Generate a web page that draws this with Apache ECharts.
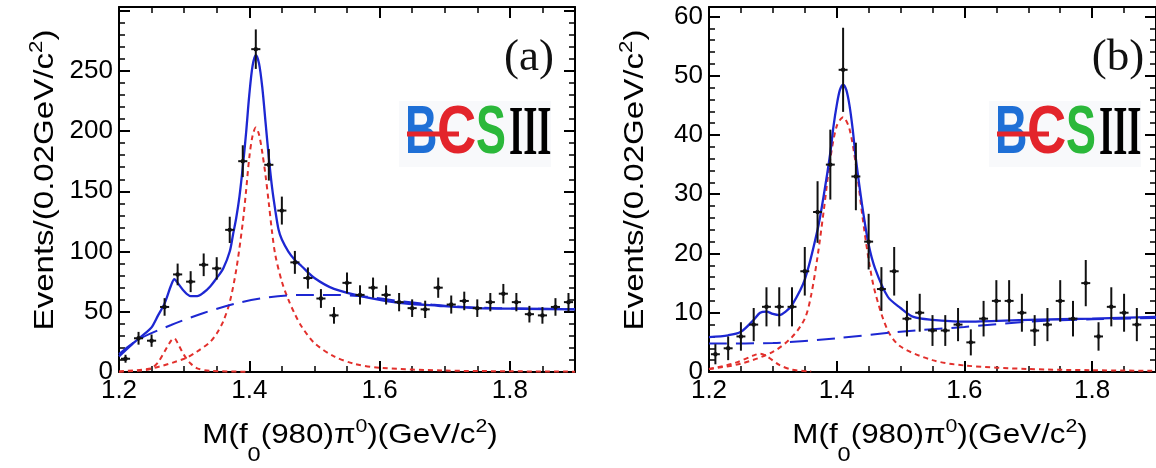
<!DOCTYPE html>
<html lang="en">
<head>
    <meta charset="UTF-8">
    <title>f0(980)pi0 mass spectra</title>
    <script src="https://cdn.jsdelivr.net/npm/echarts@6/dist/echarts.min.js"></script>
    <style>
        html, body { margin: 0; padding: 0; background: #fff; }
        #main { width: 1156px; height: 468px; }
    </style>
</head>
<body>
<div id="main"></div>
<script type="text/javascript">
    // ---- data ----
    // (a) bin centres and contents
    var aBinX = [1.21, 1.23, 1.25, 1.27, 1.29, 1.31, 1.33, 1.35, 1.37, 1.39, 1.41, 1.43, 1.45, 1.47, 1.49, 1.51, 1.53, 1.55,
        1.57, 1.59, 1.61, 1.63, 1.65, 1.67, 1.69, 1.71, 1.73, 1.75, 1.77, 1.79, 1.81, 1.83, 1.85, 1.87, 1.89];
    var aCount = [11, 28, 26, 54, 81, 75, 89, 86, 118, 175, 268, 172, 134, 91, 78, 61, 47, 74,
        64, 70, 64, 58, 53, 52, 70, 56, 59, 53, 58, 65, 58, 48, 47, 54, 58];
    var aErr = [3.3, 5.3, 5.1, 7.3, 9, 8.7, 9.4, 9.3, 10.9, 13.2, 16.4, 13.1, 11.6, 9.5, 8.8, 7.8, 6.9, 8.6,
        8, 8.4, 8, 7.6, 7.3, 7.2, 8.4, 7.5, 7.7, 7.3, 7.6, 8.1, 7.6, 6.9, 6.9, 7.3, 7.6];

    // (a) fit curves
    var aTotX = [1.20, 1.22, 1.24, 1.25, 1.26, 1.27, 1.28, 1.285, 1.29, 1.30, 1.31, 1.32, 1.33, 1.34, 1.35, 1.36, 1.37,
        1.375, 1.38, 1.385, 1.39, 1.395, 1.40, 1.405, 1.41, 1.415, 1.42, 1.425, 1.43, 1.435, 1.44, 1.445, 1.45,
        1.46, 1.47, 1.48, 1.50, 1.53, 1.58, 1.63, 1.69, 1.75, 1.82, 1.90];
    var aTotY = [13, 23, 32, 37, 47, 57, 72, 77, 74, 67, 63, 63, 66, 71, 78, 86, 100,
        114, 128, 146, 170, 198, 230, 254, 263, 256, 236, 207, 178, 153, 134, 118, 110,
        100, 93, 88, 78, 69, 62, 57.5, 55, 53, 52.5, 52];
    var aBkgX = [1.20, 1.23, 1.28, 1.33, 1.38, 1.43, 1.48, 1.53, 1.58, 1.63, 1.68, 1.73, 1.78, 1.84, 1.90];
    var aBkgY = [15, 27, 39, 49, 57, 62, 64, 64, 62.5, 59, 56, 54, 53, 52.5, 52];
    var aSigX = [1.20, 1.25, 1.30, 1.32, 1.34, 1.35, 1.36, 1.37, 1.38, 1.39, 1.395, 1.40, 1.405, 1.41, 1.415, 1.42,
        1.425, 1.43, 1.435, 1.44, 1.45, 1.46, 1.47, 1.48, 1.50, 1.53, 1.56, 1.60, 1.70, 1.80, 1.90];
    var aSigY = [0.5, 3, 11, 17, 25, 32, 42, 58, 85, 124, 150, 178, 196, 203, 197, 182,
        163, 140, 116, 97, 75, 60, 48, 38, 24, 13, 7, 3.5, 1.2, 0.6, 0.3];
    var aSmX = [1.20, 1.24, 1.25, 1.26, 1.27, 1.28, 1.285, 1.29, 1.30, 1.31, 1.32, 1.34, 1.40];
    var aSmY = [0.3, 1.5, 3, 8, 17, 26, 28, 24, 14, 7, 3, 1, 0.2];

    // (b) bin centres and contents
    var bBinX = [1.21, 1.23, 1.25, 1.27, 1.29, 1.31, 1.33, 1.35, 1.37, 1.39, 1.41, 1.43, 1.45, 1.47, 1.49, 1.51, 1.53,
        1.55, 1.57, 1.59, 1.61, 1.63, 1.65, 1.67, 1.69, 1.71, 1.73, 1.75, 1.77, 1.79, 1.81, 1.83, 1.85, 1.87];
    var bCount = [3, 4, 6, 8, 11, 11, 11, 17, 27, 35, 51, 33, 22, 14, 17, 9, 10,
        7, 7, 8, 5, 9, 12, 12, 10, 7, 8, 12, 9, 15, 6, 11, 10, 8];
    var bErr = [1.7, 2, 2.4, 2.8, 3.3, 3.3, 3.3, 4.1, 5.2, 5.9, 7.1, 5.7, 4.7, 3.7, 4.1, 3, 3.2,
        2.6, 2.6, 2.8, 2.2, 3, 3.5, 3.5, 3.2, 2.6, 2.8, 3.5, 3, 3.9, 2.4, 3.3, 3.2, 2.8];

    // (b) fit curves
    var bTotX = [1.20, 1.23, 1.25, 1.27, 1.28, 1.29, 1.30, 1.31, 1.32, 1.33, 1.35, 1.37, 1.38, 1.39, 1.395, 1.40, 1.405,
        1.41, 1.415, 1.42, 1.425, 1.43, 1.44, 1.45, 1.46, 1.48, 1.50, 1.52, 1.55, 1.60, 1.70, 1.80, 1.90];
    var bTotY = [5.9, 6.2, 6.8, 8.8, 10, 10.2, 9.8, 9.6, 10.2, 11.3, 15.6, 24, 30, 37, 41.5, 45, 47.6,
        48.5, 47.6, 45, 41, 36, 28, 21.5, 17.5, 12.7, 10.8, 9.3, 8.8, 8.5, 8.8, 9, 9.3];
    var bBkgX = [1.20, 1.30, 1.40, 1.50, 1.60, 1.70, 1.80, 1.90];
    var bBkgY = [4.8, 4.9, 5.7, 6.8, 7.6, 8.5, 8.9, 9.1];
    var bSigX = [1.20, 1.25, 1.30, 1.33, 1.35, 1.36, 1.37, 1.38, 1.39, 1.40, 1.41, 1.42, 1.43, 1.44, 1.45, 1.46,
        1.48, 1.50, 1.55, 1.60, 1.70, 1.80, 1.90];
    var bSigY = [0.5, 1.4, 3.4, 5.9, 9, 13, 19.5, 27.5, 36, 41.5, 43, 41, 35, 26.5, 19, 13.5,
        7, 4.3, 2, 1.1, 0.5, 0.3, 0.2];
    var bSmX = [1.20, 1.24, 1.27, 1.28, 1.29, 1.31, 1.33, 1.36];
    var bSmY = [0.5, 1.5, 2.8, 3.1, 2.7, 1.2, 0.4, 0.1];

    // axis ranges / ticks
    var xMin = 1.2, xMax = 1.9, xStep = 0.2;
    var aYMax = 303, aYStep = 50, aYTopLabel = 250;
    var bYMax = 61.6, bYStep = 10, bYTopLabel = 60;

    var BLUE = '#1d27d2';
    var RED = '#e2302c';
    var binHalf = 0.007;

    function zip(xs, ys) {
        var out = [];
        for (var i = 0; i < xs.length; i++) out.push([xs[i], ys[i]]);
        return out;
    }

    function points(xs, ys, es) {
        var out = [];
        for (var i = 0; i < xs.length; i++) out.push([xs[i], ys[i], es[i]]);
        return out;
    }

    // data point: vertical error bar + horizontal bin bar
    function errItem(params, api) {
        var x = api.value(0), y = api.value(1), e = api.value(2);
        var c = api.coord([x, y]);
        var t = api.coord([x, y + e]);
        var b = api.coord([x, Math.max(y - e, 0)]);
        var l = api.coord([x - binHalf, y]);
        var r = api.coord([x + binHalf, y]);
        var st = {stroke: '#111', lineWidth: 2};
        return {
            type: 'group',
            children: [
                {type: 'line', shape: {x1: t[0], y1: t[1], x2: b[0], y2: b[1]}, style: st},
                {type: 'line', shape: {x1: l[0], y1: c[1], x2: r[0], y2: c[1]}, style: st},
                {type: 'circle', shape: {cx: c[0], cy: c[1], r: 2.2}, style: {fill: '#111'}}
            ]
        };
    }

    function xAxisOf(grid, top) {
        return {
            type: 'value', gridIndex: grid, position: top ? 'top' : 'bottom',
            min: xMin, max: xMax, interval: xStep,
            axisLine: {show: true, onZero: false, lineStyle: {color: '#000', width: 2}},
            axisTick: {show: true, inside: true, length: 11, lineStyle: {color: '#000', width: 2}},
            minorTick: {show: true, splitNumber: 4, length: 6, lineStyle: {color: '#000', width: 1.5}},
            splitLine: {show: false},
            axisLabel: {
                show: !top, showMaxLabel: false, margin: 6,
                color: '#000', fontSize: 26, fontFamily: 'Liberation Sans',
                formatter: function (v) { return v.toFixed(1); }
            }
        };
    }

    function yAxisOf(grid, right, max, step, topLabel) {
        return {
            type: 'value', gridIndex: grid, position: right ? 'right' : 'left',
            min: 0, max: max, interval: step,
            axisLine: {show: true, onZero: false, lineStyle: {color: '#000', width: 2}},
            axisTick: {show: true, inside: true, length: 11, lineStyle: {color: '#000', width: 2}},
            minorTick: {show: true, splitNumber: 5, length: 6, lineStyle: {color: '#000', width: 1.5}},
            splitLine: {show: false},
            axisLabel: {
                show: !right, margin: 6,
                color: '#000', fontSize: 26, fontFamily: 'Liberation Sans',
                formatter: function (v) { return v > topLabel ? '' : String(v); }
            }
        };
    }

    function curve(xi, yi, xs, ys, color, dash, width, z) {
        return {
            type: 'line', xAxisIndex: xi, yAxisIndex: yi, data: zip(xs, ys),
            showSymbol: false, smooth: 0.3, z: z, silent: true,
            lineStyle: {color: color, width: width, type: dash}
        };
    }

    var titleFont = '"Liberation Sans", Arial, sans-serif';
    var titleRich = {
        sub: {fontSize: 21, fontFamily: titleFont, padding: [40, 0, 0, 0]},
        sup: {fontSize: 19, fontFamily: titleFont, padding: [0, 0, 16, 0]}
    };

    function xTitle(cx) {
        return {
            type: 'text', x: cx, y: 435, scaleX: 1.12,
            style: {
                text: 'M(f{sub|0}(980)π{sup|0})(GeV/c{sup|2})',
                fontSize: 28, fontFamily: titleFont, fill: '#000',
                align: 'center', verticalAlign: 'middle', rich: titleRich
            }
        };
    }

    function yTitle(cx) {
        return {
            type: 'text', x: cx, y: 180, rotation: Math.PI / 2, scaleX: 1.18,
            style: {
                text: 'Events/(0.02GeV/c{sup|2})',
                fontSize: 28, fontFamily: titleFont, fill: '#000',
                align: 'center', verticalAlign: 'middle', rich: titleRich
            }
        };
    }

    function tag(label, cx) {
        return {
            type: 'text', x: cx, y: 58,
            style: {
                text: label, fontSize: 45, fontFamily: '"Liberation Serif", serif', fill: '#111',
                align: 'center', verticalAlign: 'middle'
            }
        };
    }

    function logo(left) {
        var sans = 'bold 68px "Liberation Sans", Arial, sans-serif';
        return {
            type: 'group', x: left, y: 134,
            children: [
                {type: 'rect', shape: {x: -6, y: -33, width: 152, height: 66}, style: {fill: '#f8f9fb'}},
                {type: 'text', x: 0, y: 0, scaleX: 0.66,
                    style: {text: 'B', font: sans, fill: '#1e6fd6', align: 'left', verticalAlign: 'middle'}},
                {type: 'text', x: 32, y: 0, scaleX: 0.8,
                    style: {text: 'C', font: sans, fill: '#e3242b', align: 'left', verticalAlign: 'middle'}},
                {type: 'rect', shape: {x: 2, y: -2.5, width: 52, height: 5}, style: {fill: '#e3242b'}},
                {type: 'text', x: 71, y: 0, scaleX: 0.66,
                    style: {text: 'S', font: sans, fill: '#2bb83a', align: 'left', verticalAlign: 'middle'}},
                {type: 'text', x: 104, y: 2, scaleX: 0.52,
                    style: {text: 'III', font: 'bold 70px "Liberation Serif", serif', fill: '#000',
                        align: 'left', verticalAlign: 'middle'}}
            ]
        };
    }

    var myChart = echarts.init(document.getElementById('main'), null, {renderer: 'canvas'});

    var option = {
        animation: false,
        backgroundColor: '#fff',
        grid: [
            {left: 119, top: 7, width: 456, height: 365},
            {left: 709, top: 7, width: 456, height: 365}
        ],
        xAxis: [xAxisOf(0, false), xAxisOf(0, true), xAxisOf(1, false), xAxisOf(1, true)],
        yAxis: [yAxisOf(0, false, aYMax, aYStep, aYTopLabel), yAxisOf(0, true, aYMax, aYStep, aYTopLabel),
            yAxisOf(1, false, bYMax, bYStep, bYTopLabel), yAxisOf(1, true, bYMax, bYStep, bYTopLabel)],
        graphic: [
            xTitle(350), xTitle(940),
            yTitle(45), yTitle(635),
            tag('(a)', 529), tag('(b)', 1118),
            logo(405), logo(995)
        ],
        series: [
            // panel (a)
            curve(0, 0, aSmX, aSmY, RED, [5, 4], 2, 2),
            curve(0, 0, aSigX, aSigY, RED, [5, 4], 2, 2),
            curve(0, 0, aBkgX, aBkgY, BLUE, [18, 9], 2, 3),
            curve(0, 0, aTotX, aTotY, BLUE, 'solid', 2.3, 4),
            {
                type: 'custom', xAxisIndex: 0, yAxisIndex: 0, z: 5,
                renderItem: errItem, data: points(aBinX, aCount, aErr)
            },
            // panel (b)
            curve(2, 2, bSmX, bSmY, RED, [5, 4], 2, 2),
            curve(2, 2, bSigX, bSigY, RED, [5, 4], 2, 2),
            curve(2, 2, bBkgX, bBkgY, BLUE, [18, 9], 2, 3),
            curve(2, 2, bTotX, bTotY, BLUE, 'solid', 2.3, 4),
            {
                type: 'custom', xAxisIndex: 2, yAxisIndex: 2, z: 5,
                renderItem: errItem, data: points(bBinX, bCount, bErr)
            }
        ]
    };
    myChart.setOption(option);
</script>
</body>
</html>
